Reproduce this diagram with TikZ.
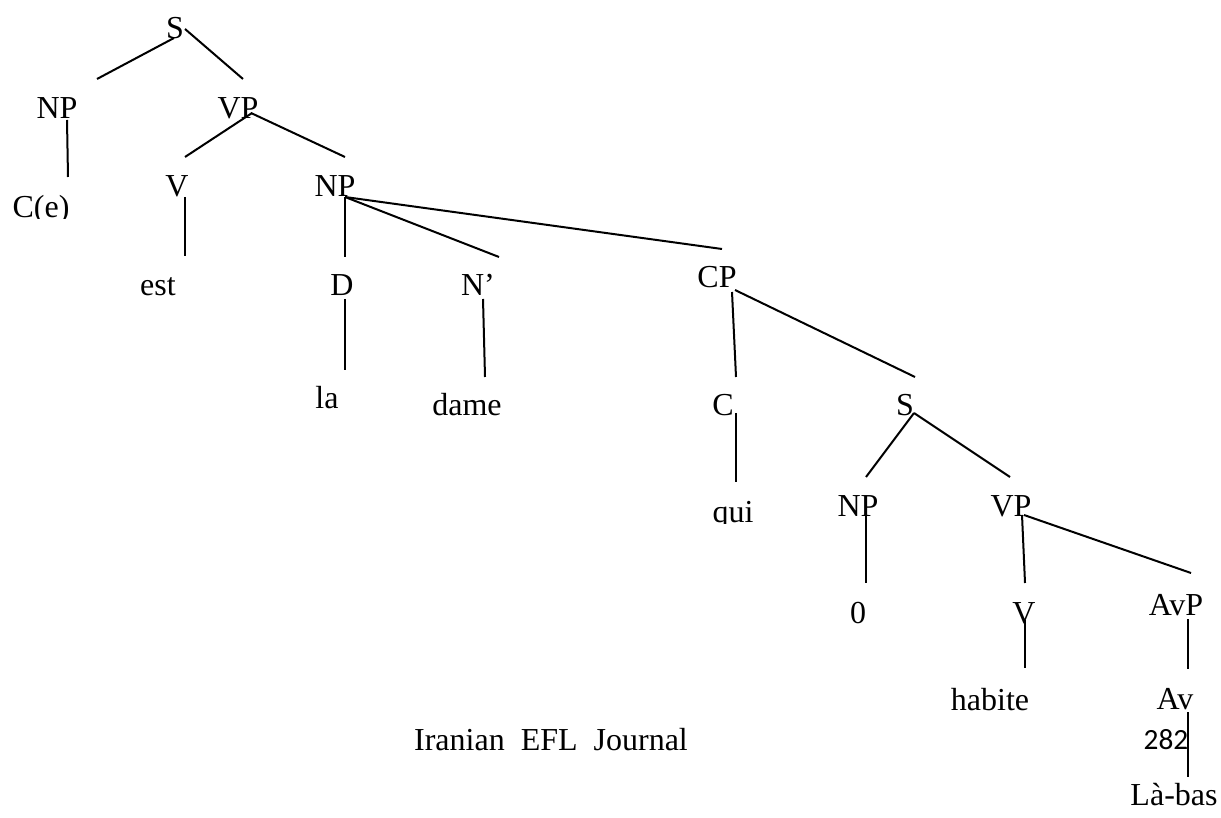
\documentclass[tikz,border=0pt]{standalone}
\usepackage{fontspec}
\setmainfont{Liberation Serif}
\newfontfamily\numfont{Carlito}
\usetikzlibrary{calc}
\tikzset{
  lbl/.style={anchor=base, inner sep=0pt, font=\fontsize{12}{14}\selectfont},
  pnum/.style={anchor=base, inner sep=0pt, font=\numfont\fontsize{11}{13}\selectfont},
  branch/.style={draw=black, line width=0.75pt}
}
\begin{document}
\begin{tikzpicture}[x=0.375pt,y=-0.375pt]
\useasboundingbox (0,0) rectangle (1221,818);
% nodes
\node[lbl] (S1) at (175,39) {S};
\node[lbl] (NP1) at (57,119) {NP};
\node[lbl] (VP1) at (238,119) {VP};
\begin{scope}
  \clip (0,180) rectangle (120,219);
  \node[lbl] (Ce) at (41,218) {C(e)};
\end{scope}
\node[lbl] (V1) at (177,197) {V};
\node[lbl] (NP2) at (335,197) {NP};
\node[lbl] (est) at (158,296) {est};
\node[lbl] (D) at (342,296) {D};
\node[lbl] (Np) at (478,296) {N’};
\node[lbl] (CP) at (717,288) {CP};
\node[lbl] (la) at (327,409) {la};
\node[lbl] (dame) at (467,416) {dame};
\node[lbl] (C) at (723,416) {C};
\node[lbl] (S2) at (905,416) {S};
\begin{scope}
  \clip (690,490) rectangle (780,523);
  \node[lbl] (qui) at (733,522) {qui};
\end{scope}
\node[lbl] (NP3) at (858,516) {NP};
\node[lbl] (VP2) at (1011,516) {VP};
\node[lbl] (zero) at (858,623) {0};
\node[lbl] (V2) at (1024,623) {V};
\node[lbl] (AvP) at (1176,615) {AvP};
\node[lbl] (habite) at (990,710) {habite};
\node[lbl] (Av) at (1175,709) {Av};
\node[pnum] (n282) at (1166,749) {282};
\node[lbl] (journal) at (551,750) {Iranian~~EFL~~Journal};
\node[lbl] (labas) at (1174,805) {Là-bas};
% branches
\draw[branch] ($(S1.base)+(-1,-1)$) -- ($(NP1.base)+(40,-40)$);
\draw[branch] ($(S1.base)+(10,-10)$) -- ($(VP1.base)+(5,-40)$);
\draw[branch] ($(NP1.base)+(10,1)$) -- ($(Ce.base)+(27,-41)$);
\draw[branch] ($(VP1.base)+(14,-6)$) -- ($(V1.base)+(8,-40)$);
\draw[branch] ($(VP1.base)+(13,-6)$) -- ($(NP2.base)+(10,-40)$);
\draw[branch] ($(V1.base)+(8,0)$) -- ($(est.base)+(27,-40)$);
\draw[branch] ($(NP2.base)+(10,0)$) -- ($(D.base)+(3,-39)$);
\draw[branch] ($(NP2.base)+(10,0)$) -- ($(Np.base)+(21,-39)$);
\draw[branch] ($(NP2.base)+(10,0)$) -- ($(CP.base)+(5,-39)$);
\draw[branch] ($(D.base)+(3,3)$) -- ($(la.base)+(18,-39)$);
\draw[branch] ($(Np.base)+(5,3)$) -- ($(dame.base)+(18,-39)$);
\draw[branch] ($(CP.base)+(15,4)$) -- ($(C.base)+(13,-39)$);
\draw[branch] ($(CP.base)+(18,2)$) -- ($(S2.base)+(10,-39)$);
\draw[branch] ($(C.base)+(13,-3)$) -- ($(qui.base)+(3,-40)$);
\draw[branch] ($(S2.base)+(9,-3)$) -- ($(NP3.base)+(8,-39)$);
\draw[branch] ($(S2.base)+(9,-3)$) -- ($(VP2.base)+(-1,-39)$);
\draw[branch] ($(NP3.base)+(8,-4)$) -- ($(zero.base)+(8,-40)$);
\draw[branch] ($(VP2.base)+(11,-1)$) -- ($(V2.base)+(1,-40)$);
\draw[branch] ($(VP2.base)+(13,-1)$) -- ($(AvP.base)+(15,-42)$);
\draw[branch] ($(V2.base)+(1,-3)$) -- ($(habite.base)+(35,-42)$);
\draw[branch] ($(AvP.base)+(12,4)$) -- ($(Av.base)+(13,-40)$);
\draw[branch] ($(Av.base)+(13,3)$) -- ($(labas.base)+(14,-28)$);
\end{tikzpicture}
\end{document}
